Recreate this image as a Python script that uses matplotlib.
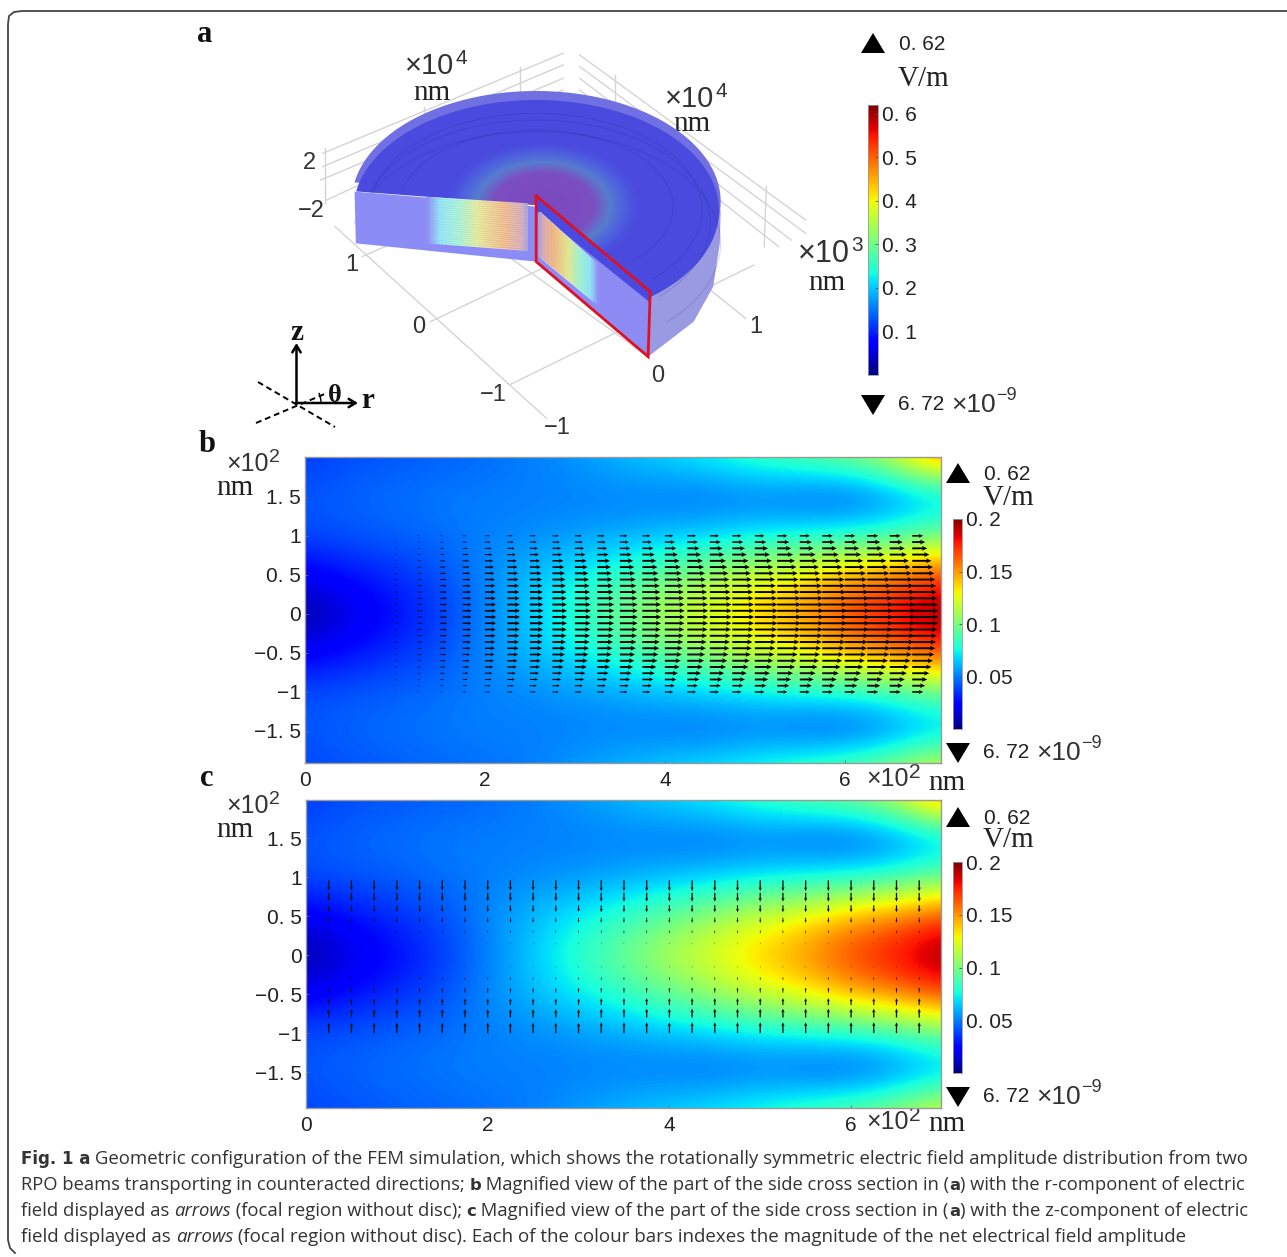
"""FEM field figure: 3D cut disc (a) and two side cross sections with arrows (b, c)."""
import matplotlib
matplotlib.use('Agg')
import matplotlib.pyplot as plt
import matplotlib.patches as mpatches
from matplotlib.collections import LineCollection
from matplotlib.colors import to_rgb
import numpy as np

field_r = [0, 0.5, 1, 1.5, 2, 2.5, 3, 3.5, 4, 4.5, 5, 5.5, 6, 6.5, 7]
field_z = [2, 1.5, 1, 0.5, 0, -0.5, -1, -1.5, -2]
field = [
    [.036, .040, .042, .044, .046, .050, .055, .062, .068, .075, .085, .092, .100, .118, .160],
    [.042, .045, .047, .049, .050, .050, .050, .050, .048, .046, .047, .043, .040, .047, .058],
    [.040, .042, .044, .047, .050, .052, .055, .058, .062, .065, .070, .073, .076, .082, .095],
    [.022, .028, .034, .040, .052, .062, .072, .082, .094, .108, .120, .130, .145, .155, .168],
    [.004, .016, .026, .036, .050, .065, .082, .097, .115, .126, .140, .152, .170, .182, .200],
    [.022, .028, .034, .040, .052, .062, .072, .082, .094, .108, .120, .130, .145, .155, .168],
    [.040, .042, .044, .047, .050, .052, .055, .058, .062, .065, .070, .073, .076, .082, .095],
    [.042, .045, .047, .049, .050, .050, .050, .050, .048, .046, .047, .043, .040, .047, .058],
    [.038, .041, .043, .045, .047, .050, .056, .062, .068, .073, .080, .088, .096, .108, .130],
]

# arrow grid of panel b: length along r (in r units) at z=0 and relative length per row
arrow_r = [0.25, 0.5, 0.75, 1, 1.25, 1.5, 1.75, 2, 2.25, 2.5, 2.75, 3, 3.25, 3.5,
           3.75, 4, 4.25, 4.5, 4.75, 5, 5.25, 5.5, 5.75, 6, 6.25, 6.5, 6.75]
er_at_axis = [0, .006, .02, .036, .055, .078, .10, .125, .14, .152, .165, .178, .189, .2,
              .211, .222, .233, .244, .244, .256, .267, .267, .278, .278, .289, .289, .289]
arrow_z_b = [1, .92, .84, .76, .68, .6, .52, .44, .36, .28, .2, .12, .04,
             -.04, -.12, -.2, -.28, -.36, -.44, -.52, -.6, -.68, -.76, -.84, -.92, -1]
er_rows = [.42, .5, .58, .66, .74, .8, .85, .89, .92, .95, .97, .99, 1,
           1, .99, .97, .95, .92, .89, .85, .8, .74, .66, .58, .5, .42]

# arrow grid of panel c
arrow_z_c = [.96, .8, .64, .48, .32, .16, 0, -.16, -.32, -.48, -.64, -.8, -1]
ez_rows = [-.14, -.115, -.09, -.065, -.04, -.02, 0, .02, .04, .065, .09, .115, .14]
ez_cols = [.95, .95, .95, .95, .95, .95, .95, .95, .95, .95, .95, .95, 1, 1,
           1, 1, 1, 1, 1, 1, 1, 1, 1, 1, 1, 1, 1]

y_ticks = [1.5, 1, 0.5, 0, -0.5, -1, -1.5]
y_labels = ['1. 5', '1', '0. 5', '0', '\u22120. 5', '\u22121', '\u22121. 5']
x_ticks = [0, 2, 4, 6]
cbar_a_ticks = [0.6, 0.5, 0.4, 0.3, 0.2, 0.1]
cbar_a_labels = ['0. 6', '0. 5', '0. 4', '0. 3', '0. 2', '0. 1']
cbar_bc_ticks = [0.2, 0.15, 0.1, 0.05]
cbar_bc_labels = ['0. 2', '0. 15', '0. 1', '0. 05']

SANS = 'Liberation Sans'
SERIF = 'Liberation Serif'
TXT = '#222222'
CAP = 'Open Sans'
W, H = 1287, 1257

fig = plt.figure(figsize=(W / 100, H / 100), dpi=100)
ax = fig.add_axes([0, 0, 1, 1])


def new_axes(x0, y0, x1, y1):
    return fig.add_axes([x0 / W, 1 - y1 / H, (x1 - x0) / W, (y1 - y0) / H])


def label(x, y, s, size=15, family=SANS, ha='left', **kw):
    return ax.text(x, y, s, fontsize=size, family=family, ha=ha, va='center', color=kw.pop('color', TXT), **kw)


def times_ten(x, y, power, size=18, sup=12):
    t = label(x, y, '\u00d710', size=size, color='#333333')
    w = t.get_window_extent(fig.canvas.get_renderer()).width
    label(x + w + 1, y - size * 0.38, power, size=sup, color='#333333')


# frame
frame_x = [1287, 22, 14, 9, 8, 8, 10, 15]
frame_y = [11, 11, 12, 16, 24, 1240, 1248, 1253]
ax.plot(frame_x, frame_y, color='#444444', lw=1.3, zorder=1)


# ---- panel a, outlines in crop coordinates
def pa(zx, zy):
    return 190 + np.asarray(zx) / 2.412, 10 + np.asarray(zy) / 3.0


def sector(cy, rx, ry, center):
    t = np.radians(np.linspace(-52, 170, 160))
    xs = np.r_[835 + rx * np.cos(t), center[0]]
    ys = np.r_[cy - ry * np.sin(t), center[1]]
    return np.column_stack(pa(xs, ys))


def poly(pts, **kw):
    xs, ys = zip(*pts)
    p = mpatches.Polygon(np.column_stack(pa(xs, ys)), closed=True, **kw)
    ax.add_patch(p)
    return p


grid_lines = [
    [(415, 740), (1000, 420)], [(580, 935), (1170, 585)], [(770, 1125), (1360, 765)],
    [(350, 650), (860, 1225)], [(600, 590), (1105, 1040)], [(815, 400), (1340, 925)],
    [(320, 430), (900, 130)], [(320, 470), (900, 165)], [(315, 510), (900, 205)], [(330, 570), (900, 240)],
    [(940, 135), (1485, 630)], [(940, 170), (1485, 670)], [(940, 205), (1450, 690)], [(940, 240), (1420, 710)],
    [(795, 170), (795, 345)], [(565, 290), (565, 470)], [(1025, 195), (1025, 370)], [(325, 415), (325, 580)],
    [(1390, 530), (1385, 710)], [(1200, 410), (1200, 530)],
]
for seg in grid_lines:
    xs, ys = pa(*zip(*seg))
    ax.plot(xs, ys, color='#d4d4d4', lw=1, zorder=2)

# lower rim behind the top surface
poly([(1280, 600), (1278, 700), (1262, 830), (1215, 935), (1105, 1040), (1110, 845)],
     facecolor='#9a9ae2', edgecolor='none', zorder=3)
top_light = mpatches.Polygon(sector(575, 445, 332, (835, 558)), facecolor='#7070e2', edgecolor='none', zorder=4)
ax.add_patch(top_light)
top_dark = mpatches.Polygon(sector(602, 441, 332, (835, 585)), facecolor='#4a4ade', edgecolor='none', zorder=5)
ax.add_patch(top_dark)

# glow around the focus on the top surface
gx, gy = np.meshgrid(np.linspace(-1, 1, 200), np.linspace(-1, 1, 200))
gr = np.hypot(gx, gy)
glow_pos = [0, .5, .66, .82, 1]
glow_cols = [to_rgb(c) for c in ['#7d48bc', '#7f50c0', '#5a86cc', '#4f6ce2', '#4a4ade']]
glow_alpha = [.95, .95, .85, .6, 0]
glow = np.dstack([np.interp(gr, glow_pos, [c[i] for c in glow_cols]) for i in range(3)]
                 + [np.interp(gr, glow_pos, glow_alpha)])
g0x, g0y = pa(850 - 245, 590 - 200)
g1x, g1y = pa(850 + 245, 590 + 200)
im = ax.imshow(glow, extent=(g0x, g1x, g1y, g0y), aspect='auto', zorder=6, interpolation='bilinear')
im.set_clip_path(top_dark)

# faint arcs of the mesh on the surface
for rx, ry, cy in [(400, 290, 600), (330, 230, 590), (420, 310, 640), (445, 335, 700)]:
    t = np.radians(np.linspace(-45, 170, 100))
    xs, ys = pa(835 + rx * np.cos(t), cy - ry * np.sin(t))
    ax.plot(xs, ys, color='#20208a', lw=0.7, alpha=0.18, zorder=7)

# cut walls
poly([(397, 545), (835, 590), (835, 755), (400, 700)], facecolor='#8c8cf6', edgecolor='none', zorder=8)
poly([(835, 558), (1110, 845), (1105, 1040), (835, 755)], facecolor='#8c8cf4', edgecolor='none', zorder=8)
poly([(835, 558), (1110, 845), (1110, 878), (835, 602)], facecolor='#4a4ae0', edgecolor='none', zorder=9)

# interference stripes on the walls, colour along a stripe from outer rim to the axis
stripe_pos = [0, .12, .3, .5, .75, .92, 1]
stripe_cols = [to_rgb(c) for c in ['#9090f5', '#88e0f4', '#98f0d0', '#e0e488', '#eeb07c', '#dca4a8', '#9f9fe8']]
base_cols = [to_rgb(c) for c in ['#9090f5', '#b0e8fa', '#c8f6ec', '#eef2c4', '#f4d8b8', '#d8c8d8', '#9f9fe8']]


def stripes(p0, p1, q0, q1, n):
    ts = np.linspace(0, 1, 41)
    for table, lw, z in [(base_cols, 2.4, 10), (stripe_cols, 1.0, 10.5)]:
        segs, cols = [], []
        for i in range(n):
            f = i / (n - 1)
            ax0, ay0 = p0[0] + (q0[0] - p0[0]) * f, p0[1] + (q0[1] - p0[1]) * f
            ax1, ay1 = p1[0] + (q1[0] - p1[0]) * f, p1[1] + (q1[1] - p1[1]) * f
            xs, ys = pa(ax0 + (ax1 - ax0) * ts, ay0 + (ay1 - ay0) * ts)
            for j in range(40):
                segs.append([(xs[j], ys[j]), (xs[j + 1], ys[j + 1])])
                cols.append([np.interp(ts[j], stripe_pos, [k[m] for k in table]) for m in range(3)])
        ax.add_collection(LineCollection(segs, colors=cols, linewidths=lw, zorder=z))


stripes((570, 565), (815, 585), (570, 695), (815, 718), 22)
stripes((985, 770), (842, 608), (985, 882), (842, 735), 22)

# red outline of the cross section
rx_, ry_ = pa([835, 1110, 1105, 835, 835], [558, 845, 1040, 755, 558])
ax.plot(rx_, ry_, color='#e01020', lw=2, zorder=11, solid_joinstyle='miter')

# axis numbers of panel a
for (x, y, s) in [(309, 163, '2'), (311, 211, '\u22122'), (352, 265, '1'), (419, 327, '0'),
                  (493, 395, '\u22121'), (557, 428, '\u22121'), (658, 376, '0'), (756, 327, '1')]:
    label(x, y, s, size=17, ha='center', color='#333333')
times_ten(405, 66, '4', size=21, sup=15)
label(432, 93, 'nm', size=21, family=SERIF, ha='center')
times_ten(665, 99, '4', size=21, sup=15)
label(692, 124, 'nm', size=21, family=SERIF, ha='center')
times_ten(798, 254, '3', size=22, sup=15)
label(827, 283, 'nm', size=21, family=SERIF, ha='center')

# r-theta-z triad
ax.plot([258, 335], [382, 427], color='k', lw=1.4, ls=(0, (3, 2)))
ax.plot([256, 327], [423, 393], color='k', lw=1.4, ls=(0, (3, 2)))
ax.annotate('', xy=(296.5, 343), xytext=(296.5, 404),
            arrowprops=dict(arrowstyle='->,head_length=0.5,head_width=0.3', color='k', lw=1.8, shrinkA=0, shrinkB=0))
ax.annotate('', xy=(358, 403), xytext=(296, 403),
            arrowprops=dict(arrowstyle='->,head_length=0.5,head_width=0.3', color='k', lw=1.8, shrinkA=0, shrinkB=0))
ax.add_patch(mpatches.Arc((296, 403), 50, 50, theta1=-24, theta2=0, color='k', lw=1))
label(297, 333, 'z', size=21, family=SERIF, ha='center', fontweight='bold', color='#111111')
label(368, 400, 'r', size=21, family=SERIF, ha='center', fontweight='bold', color='#111111')
label(335, 395, '\u03b8', size=19, family=SERIF, ha='center', fontweight='bold', color='#111111')

for x, y, s in [(205, 35, 'a'), (207, 445, 'b'), (207, 779, 'c')]:
    label(x, y, s, size=22, family=SERIF, ha='center', fontweight='bold', color='#111111')


def triangle(cx, y0, y1, up=True):
    tip, base = (y0, y1) if up else (y1, y0)
    ax.add_patch(mpatches.Polygon([(cx - 12, base), (cx + 12, base), (cx, tip)], closed=True, facecolor='k', edgecolor='none'))


def colorbar(x0, y0, x1, y1, vmax, ticks, labels):
    cax = new_axes(x0, y0, x1, y1)
    grad = np.linspace(vmax, 0, 256).reshape(-1, 1)
    cax.imshow(grad, cmap='jet', vmin=0, vmax=vmax, aspect='auto', extent=(0, 1, 0, vmax))
    cax.set_xticks([])
    cax.yaxis.tick_right()
    cax.set_yticks(ticks)
    cax.set_yticklabels(labels, fontsize=15, family=SANS, color=TXT)
    cax.tick_params(axis='y', direction='in', length=2, width=0.6, color='#555555', pad=3)
    for s in cax.spines.values():
        s.set_color('#999999')
        s.set_linewidth(0.6)


def min_max(up_y, text_x, v_y, down_y, gap_x):
    triangle(gap_x, up_y - 10, up_y + 10, up=True)
    label(text_x + 1, up_y + 1, '0. 62', size=15)
    label(text_x, v_y, 'V/m', size=21, family=SERIF)
    triangle(gap_x, down_y - 10, down_y + 10, up=False)
    label(text_x, down_y, '6. 72', size=15)
    label(text_x + 53, down_y, '\u00d710', size=19, color='#333333')
    label(text_x + 98, down_y - 9, '\u22129', size=13, color='#333333')


colorbar(868, 105, 878, 375, 0.62, cbar_a_ticks, cbar_a_labels)
min_max(43, 898, 79, 405, 873)


# ---- panels b and c
def field_panel(x0, y0, x1, y1, rmax, zmin, zmax):
    a = new_axes(x0, y0, x1, y1)
    a.imshow(field, cmap='jet', vmin=0, vmax=0.2, aspect='auto', interpolation='bicubic',
             extent=(field_r[0] - .25, field_r[-1] + .25, field_z[-1] - .25, field_z[0] + .25))
    a.set_xlim(0, rmax)
    a.set_ylim(zmin, zmax)
    a.set_xticks(x_ticks)
    a.set_xticklabels([str(v) for v in x_ticks], fontsize=15, family=SANS, color=TXT)
    a.set_yticks(y_ticks)
    a.set_yticklabels(y_labels, fontsize=15, family=SANS, color=TXT)
    a.tick_params(direction='in', length=2, width=0.6, color='#666666', pad=6)
    a.tick_params(axis='y', pad=3)
    for s in a.spines.values():
        s.set_color('#999999')
        s.set_linewidth(1)
    return a


ax_b = field_panel(305, 457, 941, 763, 7.07, -1.91, 2.01)
R, Z = np.meshgrid(arrow_r, arrow_z_b)
ax_b.quiver(R, Z, np.outer(er_rows, er_at_axis), np.zeros_like(R), angles='xy', scale_units='xy', scale=1,
            units='dots', width=1.9, headwidth=2.6, headlength=2.8, headaxislength=2.4, minshaft=2.5, minlength=0,
            color='k')

ax_c = field_panel(306, 800, 941, 1108, 6.99, -1.96, 1.99)
R, Z = np.meshgrid(arrow_r, arrow_z_c)
ax_c.quiver(R, Z, np.zeros_like(R), np.outer(ez_rows, ez_cols), angles='xy', scale_units='xy', scale=1,
            units='dots', width=1.3, headwidth=2.6, headlength=3, headaxislength=2.6, minshaft=2, minlength=0,
            color='#111111')

for yb, ynm, cb_y0, cb_y1, up, v, down in [(464, 488, 519, 729, 473, 498, 753), (806, 830, 862, 1073, 817, 840, 1097)]:
    times_ten(226, yb, '2', size=18, sup=14)
    label(235, ynm, 'nm', size=21, family=SERIF, ha='center')
    colorbar(953, cb_y0, 962, cb_y1, 0.2, cbar_bc_ticks, cbar_bc_labels)
    min_max(up, 983, v, down, 958)

times_ten(866, 779, '2', size=18, sup=15)
label(947, 783, 'nm', size=21, family=SERIF, ha='center')
times_ten(866, 1122, '2', size=18, sup=15)
label(947, 1124, 'nm', size=21, family=SERIF, ha='center')

ax.set_xlim(0, W)
ax.set_ylim(H, 0)
ax.axis('off')

# ---- caption, mixed weights so placed run by run
caption = [
    (1159, 13.45, [('Fig. 1 a', 'bold', 'normal'), (' Geometric configuration of the FEM simulation, which shows the rotationally symmetric electric field amplitude distribution from two', 'normal', 'normal')]),
    (1185, 13.22, [('RPO beams transporting in counteracted directions; ', 'normal', 'normal'), ('b', 'bold', 'normal'), (' Magnified view of the part of the side cross section in (', 'normal', 'normal'), ('a', 'bold', 'normal'), (') with the r-component of electric', 'normal', 'normal')]),
    (1211, 13.29, [('field displayed as ', 'normal', 'normal'), ('arrows', 'normal', 'italic'), (' (focal region without disc); ', 'normal', 'normal'), ('c', 'bold', 'normal'), (' Magnified view of the part of the side cross section in (', 'normal', 'normal'), ('a', 'bold', 'normal'), (') with the z-component of electric', 'normal', 'normal')]),
    (1237, 13.48, [('field displayed as ', 'normal', 'normal'), ('arrows', 'normal', 'italic'), (' (focal region without disc). Each of the colour bars indexes the magnitude of the net electrical field amplitude', 'normal', 'normal')]),
]
rend = fig.canvas.get_renderer()
for y, base_size, runs in caption:
    x = 21
    for s, weight, style in runs:
        fam = 'DejaVu Sans' if weight == 'bold' else CAP
        size = base_size * 0.89 if weight == 'bold' else base_size
        ax.text(x, y, s, fontsize=size, family=fam, fontweight=weight, fontstyle=style,
                color='#333333', ha='left', va='center')
        probe = ax.text(0, 0, 'x' + s + 'x', fontsize=size, family=fam, fontweight=weight, fontstyle=style)
        probe2 = ax.text(0, 0, 'xx', fontsize=size, family=fam, fontweight=weight, fontstyle=style)
        x += probe.get_window_extent(rend).width - probe2.get_window_extent(rend).width
        probe.remove()
        probe2.remove()

plt.savefig('out.png', dpi=100)
